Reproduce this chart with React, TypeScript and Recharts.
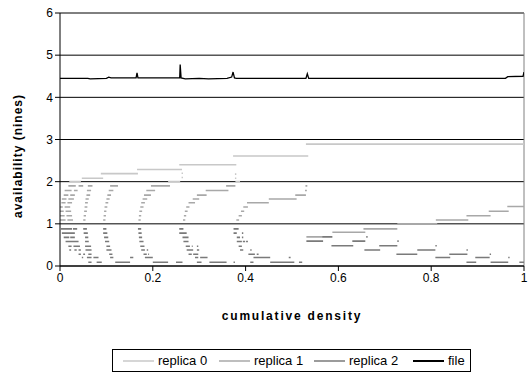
import React from 'react';
import { LineChart, Line, XAxis, YAxis, CartesianGrid, ReferenceLine, Legend } from 'recharts';

type Seg = [number, number, number]; // [xStart, xEnd, nines]

const FONT = '"Liberation Sans", Arial, sans-serif';

const xTicks = [0, 0.2, 0.4, 0.6, 0.8, 1];
const yTicks = [0, 1, 2, 3, 4, 5, 6];
const seriesNames = ['replica 0', 'replica 1', 'replica 2', 'file'];
const seriesColors = ['#c8c8c8', '#a8a8a8', '#7a7a7a', '#000000'];

// upper staircase (lightest grey)
const replica0Segments: Seg[] = [
  [0.02, 0.045, 2.0], [0.047, 0.093, 2.08], [0.088, 0.168, 2.19], [0.166, 0.263, 2.29],
  [0.233, 0.259, 2.0], [0.257, 0.38, 2.4], [0.373, 0.535, 2.61], [0.53, 1.0, 2.89],
  [0.262, 0.265, 2.1], [0.262, 0.265, 2.2], [0.377, 0.38, 2.08], [0.377, 0.38, 2.18],
  [0.378, 0.388, 2.0],
];

// arcs between 1 and 2 nines
const replica1Segments: Seg[] = [
  [0, 0.012, 1.09], [0.016, 0.028, 1.09], [0, 0.01, 1.19], [0.014, 0.026, 1.19],
  [0, 0.008, 1.3], [0.012, 0.024, 1.3], [0, 0.006, 1.4], [0.01, 0.022, 1.4],
  [0.003, 0.012, 1.5], [0.016, 0.026, 1.5], [0.004, 0.014, 1.59], [0.018, 0.03, 1.59],
  [0.008, 0.018, 1.68], [0.022, 0.032, 1.68], [0.01, 0.025, 1.79], [0.03, 0.038, 1.79],
  [0.018, 0.034, 1.9], [0.04, 0.05, 1.9],
  [0.05, 0.055, 1.09], [0.051, 0.056, 1.19], [0.052, 0.058, 1.3], [0.053, 0.059, 1.4],
  [0.054, 0.06, 1.5], [0.055, 0.062, 1.59], [0.057, 0.065, 1.68], [0.058, 0.067, 1.79], [0.06, 0.07, 1.9],
  [0.093, 0.098, 1.09], [0.094, 0.099, 1.19], [0.095, 0.1, 1.3], [0.096, 0.102, 1.4],
  [0.098, 0.104, 1.5], [0.1, 0.107, 1.59], [0.102, 0.11, 1.68], [0.105, 0.115, 1.79], [0.108, 0.125, 1.9],
  [0.169, 0.174, 1.09], [0.17, 0.175, 1.19], [0.171, 0.177, 1.3], [0.173, 0.18, 1.4],
  [0.175, 0.183, 1.5], [0.178, 0.188, 1.59], [0.181, 0.196, 1.68], [0.186, 0.205, 1.79], [0.196, 0.237, 1.9],
  [0.265, 0.27, 1.09], [0.267, 0.272, 1.19], [0.269, 0.275, 1.3], [0.272, 0.279, 1.4],
  [0.277, 0.291, 1.5], [0.286, 0.3, 1.59], [0.295, 0.316, 1.68], [0.314, 0.363, 1.79], [0.358, 0.378, 1.9],
  [0.38, 0.386, 1.09], [0.385, 0.392, 1.19], [0.39, 0.397, 1.3], [0.395, 0.405, 1.4],
  [0.403, 0.45, 1.5], [0.45, 0.51, 1.59], [0.507, 0.53, 1.68], [0.528, 0.532, 1.79], [0.529, 0.533, 1.9],
  [0.727, 0.813, 1.0], [0.81, 0.88, 1.09], [0.876, 0.928, 1.19], [0.924, 0.967, 1.3], [0.964, 1.0, 1.41],
  [0.654, 0.727, 0.88], [0.587, 0.658, 0.8], [0.531, 0.565, 0.69],
];

// arcs below 1 nine (darker grey)
const replica2Segments: Seg[] = [
  [0.002, 0.026, 0.88], [0.028, 0.037, 0.88], [0.05, 0.058, 0.88], [0.093, 0.1, 0.88],
  [0.004, 0.032, 0.78], [0.051, 0.06, 0.78], [0.093, 0.102, 0.78],
  [0.008, 0.02, 0.68], [0.022, 0.032, 0.68], [0.054, 0.061, 0.68], [0.095, 0.104, 0.68],
  [0.012, 0.04, 0.58], [0.054, 0.062, 0.58], [0.097, 0.106, 0.58],
  [0.018, 0.025, 0.47], [0.029, 0.043, 0.47], [0.054, 0.067, 0.47], [0.1, 0.108, 0.47],
  [0.02, 0.024, 0.38], [0.031, 0.036, 0.38], [0.04, 0.045, 0.38], [0.055, 0.068, 0.38], [0.1, 0.111, 0.38],
  [0.04, 0.045, 0.28], [0.05, 0.054, 0.28], [0.061, 0.068, 0.28], [0.106, 0.113, 0.28],
  [0.047, 0.05, 0.2], [0.058, 0.068, 0.2], [0.072, 0.083, 0.2], [0.108, 0.115, 0.2], [0.151, 0.158, 0.2],
  [0.061, 0.068, 0.09], [0.079, 0.09, 0.09], [0.119, 0.151, 0.09],
  [0.168, 0.175, 0.88], [0.169, 0.176, 0.78], [0.17, 0.177, 0.68], [0.171, 0.18, 0.58],
  [0.173, 0.182, 0.47], [0.175, 0.183, 0.38], [0.187, 0.19, 0.38], [0.18, 0.187, 0.28],
  [0.19, 0.192, 0.28], [0.183, 0.2, 0.2], [0.14, 0.151, 0.09], [0.2, 0.233, 0.09],
  [0.257, 0.266, 0.88], [0.257, 0.273, 0.78], [0.264, 0.277, 0.68], [0.266, 0.277, 0.58],
  [0.271, 0.28, 0.47], [0.284, 0.286, 0.47], [0.295, 0.298, 0.47], [0.273, 0.287, 0.38],
  [0.295, 0.3, 0.38], [0.277, 0.284, 0.28], [0.287, 0.298, 0.28], [0.291, 0.298, 0.2],
  [0.302, 0.318, 0.2], [0.25, 0.264, 0.09], [0.295, 0.305, 0.09], [0.322, 0.359, 0.09], [0.374, 0.377, 0.09],
  [0.374, 0.385, 0.88], [0.374, 0.381, 0.78], [0.392, 0.395, 0.78], [0.381, 0.388, 0.68],
  [0.392, 0.395, 0.68], [0.381, 0.392, 0.58], [0.394, 0.399, 0.58], [0.401, 0.405, 0.58],
  [0.385, 0.392, 0.47], [0.388, 0.395, 0.38], [0.41, 0.413, 0.38], [0.406, 0.42, 0.28],
  [0.424, 0.428, 0.28], [0.417, 0.453, 0.2], [0.41, 0.417, 0.09], [0.453, 0.505, 0.09],
  [0.493, 0.497, 0.2], [0.515, 0.522, 0.09],
  [0.565, 0.587, 0.69], [0.531, 0.567, 0.59], [0.63, 0.658, 0.59], [0.585, 0.632, 0.48],
  [0.688, 0.727, 0.48], [0.656, 0.69, 0.38], [0.77, 0.809, 0.38], [0.725, 0.77, 0.28],
  [0.839, 0.878, 0.28], [0.809, 0.841, 0.2], [0.895, 0.926, 0.2], [0.876, 0.897, 0.09],
  [0.928, 0.966, 0.09], [0.99, 1.0, 0.09],
  [0.66, 0.663, 0.69], [0.727, 0.73, 0.59], [0.809, 0.812, 0.48], [0.876, 0.879, 0.38],
  [0.926, 0.929, 0.28], [0.966, 0.969, 0.2],
];

// file availability, continuous
const filePoints: [number, number][] = [
  [0, 4.45], [0.06, 4.45], [0.065, 4.44], [0.1, 4.45], [0.105, 4.48], [0.11, 4.46],
  [0.164, 4.46], [0.166, 4.58], [0.168, 4.46], [0.258, 4.46], [0.259, 4.78], [0.261, 4.46],
  [0.27, 4.44], [0.3, 4.45], [0.32, 4.44], [0.36, 4.45], [0.37, 4.48],
  [0.373, 4.6], [0.376, 4.46], [0.38, 4.45], [0.53, 4.45], [0.533, 4.56], [0.536, 4.45],
  [0.96, 4.45], [0.965, 4.49], [0.998, 4.5], [1.0, 4.6],
];

function segmentsToLine(segs: Seg[]) {
  const out: { x: number; y: number | null }[] = [];
  for (const [x1, x2, y] of segs) {
    out.push({ x: x1, y }, { x: x2, y }, { x: x2, y: null });
  }
  return out;
}

const lineData = [
  segmentsToLine(replica0Segments),
  segmentsToLine(replica1Segments),
  segmentsToLine(replica2Segments),
  filePoints.map(([x, y]) => ({ x, y })),
];

const legendTextLeft = [45, 141, 236, 335];

function renderLegend() {
  return (
    <div
      style={{
        position: 'relative',
        width: 359,
        height: 23,
        border: '1px solid #000',
        boxSizing: 'border-box',
        background: '#fff',
        fontFamily: FONT,
        fontSize: 13,
        color: '#000',
      }}
    >
      {seriesNames.map((name, i) => (
        <div key={name} style={{ position: 'absolute', left: legendTextLeft[i] - 35, top: 3, display: 'flex', alignItems: 'center', height: 15 }}>
          <svg width={31} height={4} style={{ marginRight: 4 }}>
            <line x1={0} x2={31} y1={2} y2={2} stroke={seriesColors[i]} strokeWidth={i === 3 ? 2 : 1.5} />
          </svg>
          <span style={{ whiteSpace: 'nowrap', lineHeight: '15px' }}>{name}</span>
        </div>
      ))}
    </div>
  );
}

export default function App() {
  return (
    <div>
      <style>{'html, body { margin: 0; padding: 0; overflow: hidden; }'}</style>
      <LineChart width={529} height={373} margin={{ top: 13, right: 5, left: 0, bottom: 80 }} style={{ fontFamily: FONT }}>
        <CartesianGrid vertical={false} stroke="#000" strokeWidth={1} />
        <XAxis
          type="number"
          dataKey="x"
          domain={[0, 1]}
          allowDataOverflow
          ticks={xTicks}
          interval={0}
          height={27}
          stroke="#000"
          tickSize={5}
          tick={{ fontSize: 12, fill: '#000', fontFamily: FONT }}
          label={(props: any) => {
            const vb = props.viewBox || { x: 60, y: 266, width: 464 };
            return (
              <text
                x={vb.x + vb.width / 2}
                y={316}
                textAnchor="middle"
                dominantBaseline="central"
                style={{ fontFamily: FONT, fontSize: 12, fontWeight: 'bold', letterSpacing: 1.8 }}
                fill="#000"
              >
                cumulative density
              </text>
            );
          }}
        />
        <YAxis
          type="number"
          domain={[0, 6]}
          ticks={yTicks}
          width={60}
          stroke="#000"
          tickSize={5}
          interval={0}
          tick={{ fontSize: 12, fill: '#000', fontFamily: FONT }}
          label={() => (
            <text
              x={18}
              y={156}
              transform="rotate(-90 18 156)"
              textAnchor="middle"
              dominantBaseline="central"
              style={{ fontFamily: FONT, fontSize: 12, fontWeight: 'bold', letterSpacing: 1 }}
              fill="#000"
            >
              availability (nines)
            </text>
          )}
        />
        <ReferenceLine y={6} stroke="#808080" />
        <ReferenceLine x={1} stroke="#808080" />
        {lineData.map((data, i) => (
          <Line
            key={seriesNames[i]}
            data={data}
            dataKey="y"
            name={seriesNames[i]}
            type="linear"
            stroke={seriesColors[i]}
            strokeWidth={i === 3 ? 1.3 : 1.6}
            dot={false}
            activeDot={false}
            connectNulls={false}
            isAnimationActive={false}
          />
        ))}
        <Legend
          layout="horizontal"
          verticalAlign="middle"
          align="center"
          wrapperStyle={{ left: 112, top: 349, width: 359, height: 23 }}
          content={renderLegend}
        />
      </LineChart>
    </div>
  );
}
